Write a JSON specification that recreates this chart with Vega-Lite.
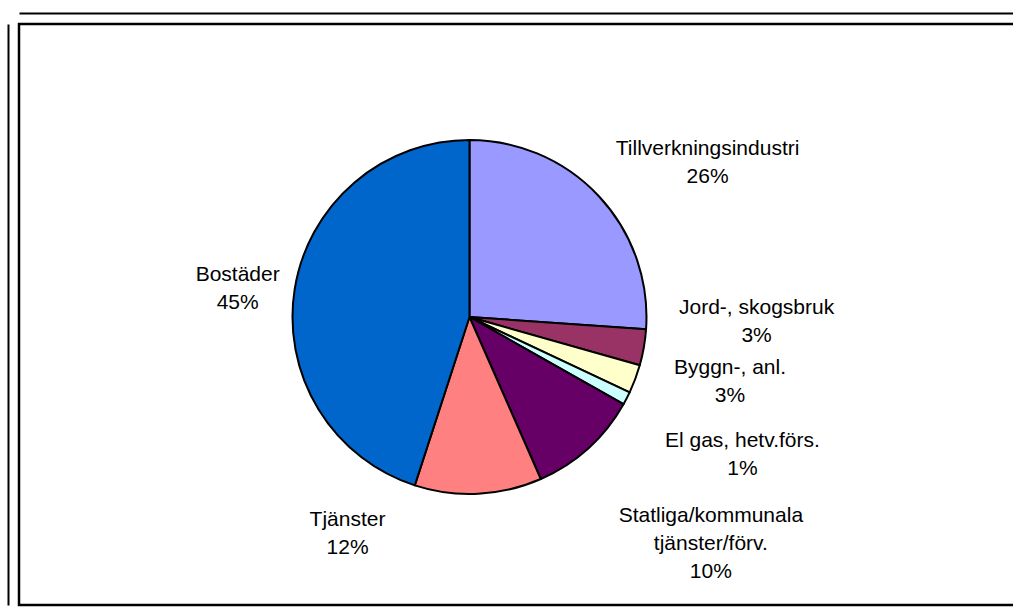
{
  "$schema": "https://vega.github.io/schema/vega-lite/v6.json",
  "width": 994,
  "height": 581,
  "autosize": {"type": "none"},
  "padding": {"left": 19, "top": 24, "right": 0, "bottom": 7},
  "background": "white",
  "data": {
    "values": [
      {"rank": 1, "sector": "Tillverkningsindustri", "share": 26.1, "label": ["Tillverkningsindustri", "26%"]},
      {"rank": 2, "sector": "Jord-, skogsbruk", "share": 3.3, "label": ["Jord-, skogsbruk", "3%"]},
      {"rank": 3, "sector": "Byggn-, anl.", "share": 2.6, "label": ["Byggn-, anl.", "3%"]},
      {"rank": 4, "sector": "El gas, hetv.förs.", "share": 1.2, "label": ["El gas, hetv.förs.", "1%"]},
      {"rank": 5, "sector": "Statliga/kommunala tjänster/förv.", "share": 10.2, "label": ["Statliga/kommunala", "tjänster/förv.", "10%"]},
      {"rank": 6, "sector": "Tjänster", "share": 11.6, "label": ["Tjänster", "12%"]},
      {"rank": 7, "sector": "Bostäder", "share": 45.0, "label": ["Bostäder", "45%"]}
    ]
  },
  "encoding": {
    "x": {
      "datum": 0.4532, "type": "quantitative", "scale": {"domain": [0, 1]},
      "axis": {"orient": "top", "offset": 11, "domain": true, "domainColor": "black", "domainWidth": 2, "ticks": false, "labels": false, "grid": false, "title": null}
    },
    "y": {
      "datum": 0.4957, "type": "quantitative", "scale": {"domain": [0, 1]},
      "axis": {"orient": "left", "offset": 11, "domain": true, "domainColor": "black", "domainWidth": 2, "ticks": false, "labels": false, "grid": false, "title": null}
    },
    "theta": {"field": "share", "type": "quantitative", "stack": true},
    "order": {"field": "rank", "type": "quantitative"}
  },
  "layer": [
    {
      "mark": {"type": "arc", "outerRadius": 177, "stroke": "black", "strokeWidth": 2, "strokeJoin": "round"},
      "encoding": {
        "color": {
          "field": "sector",
          "type": "nominal",
          "legend": null,
          "scale": {
            "domain": ["Tillverkningsindustri", "Jord-, skogsbruk", "Byggn-, anl.", "El gas, hetv.förs.", "Statliga/kommunala tjänster/förv.", "Tjänster", "Bostäder"],
            "range": ["#9999FF", "#993366", "#FFFFCC", "#CCFFFF", "#660066", "#FF8080", "#0066CC"]
          }
        }
      }
    },
    {
      "mark": {
        "type": "text",
        "radius": 260,
        "font": "Liberation Sans",
        "fontSize": 21,
        "lineHeight": 28,
        "align": "center",
        "baseline": "middle",
        "color": "black",
        "dx": {"expr": "{'Tillverkningsindustri': 48, 'Jord-, skogsbruk': 31, 'Byggn-, anl.': 17, 'El gas, hetv.förs.': 42, 'Statliga/kommunala tjänster/förv.': 67, 'Tjänster': -135, 'Bostäder': 25}[datum.sector]"},
        "dy": {"expr": "{'Tillverkningsindustri': 9, 'Jord-, skogsbruk': -54, 'Byggn-, anl.': -40, 'El gas, hetv.förs.': 5, 'Statliga/kommunala tjänster/förv.': 6, 'Tjänster': -57, 'Bostäder': -1}[datum.sector]"}
      },
      "encoding": {
        "text": {"field": "label", "type": "nominal"}
      }
    }
  ],
  "config": {
    "view": {"stroke": "black", "strokeWidth": 2.5, "strokeDash": [994, 581, 1575]}
  }
}
